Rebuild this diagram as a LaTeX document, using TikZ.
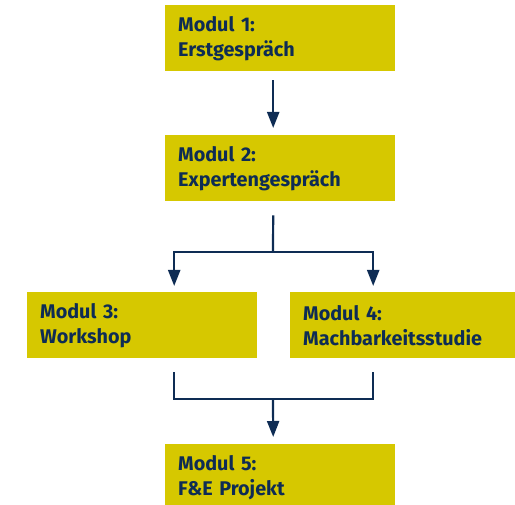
\documentclass[tikz,border=0pt]{standalone}
\usepackage{fontspec}
\setmainfont{Fira Sans}
\usetikzlibrary{arrows.meta, positioning}
\definecolor{modulgelb}{RGB}{214,200,0}
\definecolor{modulblau}{RGB}{14,44,84}
\tikzstyle{modul} = [rectangle, anchor=north west, minimum width=230pt, minimum height=66pt, inner sep=0pt, text width=204pt, align=left, fill=modulgelb, text=modulblau, font=\fontsize{19.8}{25}\selectfont\bfseries]
\tikzstyle{link} = [draw=modulblau, line width=2.2pt]
\tikzstyle{arrow} = [link, -{Triangle[width=12pt, length=16pt]}]

\begin{document}
\begin{tikzpicture}[x=1pt, y=-1pt]

    \useasboundingbox (0,0) rectangle (515,505);

    \node (m1) [modul] at (165,5) {Modul 1:\\Erstgespräch};
    \node (m2) [modul] at (165,135) {Modul 2:\\Expertengespräch};
    \node (m3) [modul] at (27,292) {Modul 3:\\Workshop};
    \node (m4) [modul] at (290,292) {Modul 4:\\Machbarkeitsstudie};
    \node (m5) [modul] at (165,444) {Modul 5:\\F\&E Projekt};

    \coordinate (fork) at (273,252);
    \coordinate (merge) at (273,399);

    \draw [arrow] ([xshift=-7pt, yshift=-9pt]m1.south) -- ([xshift=-7pt, yshift=7pt]m2.north);
    \draw [link] ([xshift=-7pt, yshift=-14pt]m2.south) -- (fork);
    \draw [arrow] (fork) -| ([xshift=32pt, yshift=6pt]m3.north);
    \draw [arrow] (fork) -| ([xshift=-32pt, yshift=6pt]m4.north);
    \draw [link] ([xshift=32pt, yshift=-14pt]m3.south) |- (merge);
    \draw [link] ([xshift=-32pt, yshift=-14pt]m4.south) |- (merge);
    \draw [arrow] (merge) -- ([xshift=-7pt, yshift=7pt]m5.north);

\end{tikzpicture}
\end{document}
